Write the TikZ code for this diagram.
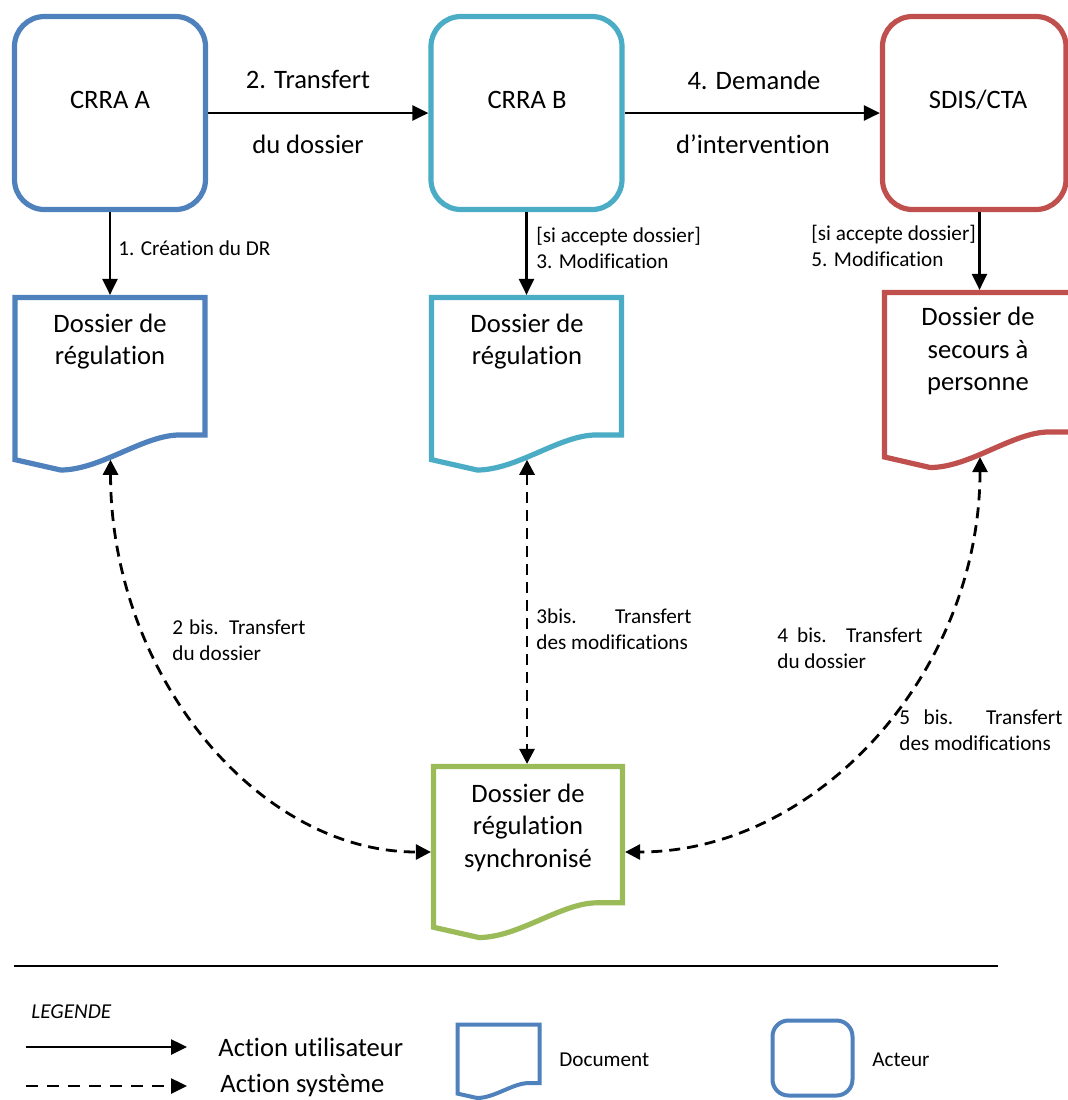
\documentclass[tikz,border=0pt]{standalone}
\usepackage{fontspec}
\setmainfont{Carlito}[Ligatures={NoCommon}]
\usetikzlibrary{arrows.meta,calc}

\definecolor{actA}{HTML}{4F81BD}
\definecolor{actB}{HTML}{4BACC6}
\definecolor{actS}{HTML}{C0504D}
\definecolor{syncCol}{HTML}{9BBB59}

\tikzset{
  actor/.style={draw=#1, line width=2.6pt, rounded corners=15pt, inner sep=0pt,
                minimum width=95.5pt, minimum height=96.5pt},
  docarea/.style={inner sep=0pt, outer sep=0pt},
  bigtext/.style={font=\fontsize{13.3}{16.3}\selectfont, inner sep=0pt, align=center},
  smalltext/.style={font=\fontsize{10.6}{13}\selectfont, inner sep=0pt, align=left},
  userarrow/.style={line width=1.3pt, -{Triangle[length=8pt,width=7.5pt]}},
  sysarrow/.style={line width=1.4pt, dash pattern=on 5.5pt off 3.5pt,
                   {Triangle[length=7.5pt,width=7.5pt]}-{Triangle[length=7.5pt,width=7.5pt]}},
  legdash/.style={line width=1.3pt, dash pattern=on 6pt off 4.5pt,
                  -{Triangle[length=8pt,width=7.5pt]}},
}

% Document outline (flat top, wavy bottom) drawn on the area of node #1
\newcommand\docoutline[3]{%
  \draw[line width=#3, draw=#2, fill=white]
    let \p1=(#1.north west), \p2=(#1.south east),
        \n1={\x2-\x1}, \n2={\y2-\y1} in
    (\x1,\y1) -- (\x2,\y1) -- (\x2,{\y1+0.797*\n2})
    -- ({\x2-0.134*\n1},{\y1+0.797*\n2})
    .. controls ({\x2-0.324*\n1},{\y1+0.797*\n2}) and ({\x1+0.45*\n1},\y2)
    .. ({\x1+0.24*\n1},\y2) coordinate[pos=0.59] (#1-w)
    -- (\x1,{\y1+0.94*\n2}) -- cycle;
}

\begin{document}
\begin{tikzpicture}[x=0.5pt,y=-0.5pt]
\fill[white] (0,0) rectangle (1068,1100);
\clip (0,0) rectangle (1068,1100);

% ---------- actors ----------
\node[actor=actA] (crraA) at (110,113) {};
\node[actor=actB] (crraB) at (526.5,113) {};
\node[actor=actS, minimum width=91.75pt] (sdis) at (974.25,113) {};
\node[bigtext] (tA) at (110,100) {CRRA A};
\node[bigtext] (tB) at (527,100) {CRRA B};
\node[bigtext] (tS) at (978,100) {SDIS/CTA};

% ---------- documents ----------
\node[docarea, minimum width=95pt, minimum height=86.25pt] (docA) at (110,383.75) {};
\docoutline{docA}{actA}{2.6pt}
\node[docarea, minimum width=95pt, minimum height=86.25pt] (docB) at (526.5,383.75) {};
\docoutline{docB}{actB}{2.6pt}
\node[docarea, minimum width=95pt, minimum height=87.5pt] (docS) at (979.5,380) {};
\docoutline{docS}{actS}{2.6pt}
\node[docarea, minimum width=94.5pt, minimum height=85.5pt] (docSync) at (528,852) {};
\docoutline{docSync}{syncCol}{2.6pt}

\node[bigtext] (dtA) at (110,341.5) {Dossier de\\régulation};
\node[bigtext] (dtB) at (527,341.5) {Dossier de\\régulation};
\node[bigtext] (dtS) at (978,351) {Dossier de\\secours à\\personne};
\node[bigtext] (dtSync) at (528,827.5) {Dossier de\\régulation\\synchronisé};

% ---------- user actions ----------
\draw[userarrow] (crraA.east) -- (crraB.west);
\draw[userarrow] (crraB.east) -- (sdis.west);
\draw[userarrow, shorten >=1.3pt] (crraA.south) -- (docA.north);
\draw[userarrow, shorten >=1.3pt] (crraB.south) -- (docB.north);
\draw[userarrow, shorten >=1.3pt] (sdis.south -| docS.north) -- (docS.north);

\node[bigtext] (l2a) at (308,79) {2. Transfert};
\node[bigtext] (l2b) at (308,144) {du dossier};
\node[bigtext] (l4a) at (754,80) {4. Demande};
\node[bigtext] (l4b) at (753,144) {d’intervention};
\node[smalltext, anchor=west] (l1) at (118,248) {1. Création du DR};
\node[smalltext, anchor=west] (l3) at (536,248) {[si accepte dossier]\\3. Modification};
\node[smalltext, anchor=west] (l5) at (811,245.5) {[si accepte dossier]\\5. Modification};

% ---------- system actions ----------
\draw[sysarrow, shorten <=1.3pt, shorten >=1.3pt]
  (docA-w) .. controls +(0,216) and +(-177,0) .. (docSync.west);
\draw[sysarrow, shorten <=1.3pt, shorten >=1.3pt]
  (docB-w) -- (docB-w |- docSync.north);
\draw[sysarrow, shorten <=1.3pt, shorten >=1.3pt]
  (docS-w) .. controls +(0,217) and +(196,0) .. (docSync.east);

\node[smalltext, anchor=west] (b2) at (172,640)
  {\makebox[66.5pt][s]{2 bis. Transfert}\\du dossier};
\node[smalltext, anchor=west] (b3) at (536,629)
  {\makebox[77.5pt][s]{3bis. Transfert}\\des modifications};
\node[smalltext, anchor=west] (b4) at (777,648.5)
  {\makebox[72.5pt][s]{4 bis. Transfert}\\du dossier};
\node[smalltext, anchor=west] (b5) at (899,730)
  {\makebox[81.5pt][s]{5 bis. Transfert}\\des modifications};

% ---------- legend ----------
\draw[line width=1.3pt] (14,966) -- (998,966);
\node[smalltext, font=\fontsize{10.6}{13}\selectfont\itshape, anchor=west] (legTitle) at (31,1012) {LEGENDE};
\coordinate (lu1) at (26,1047);
\coordinate (lu2) at (187,1047);
\draw[userarrow] (lu1) -- (lu2);
\node[bigtext, anchor=west] (luText) at (218,1047) {Action utilisateur};
\coordinate (ls1) at (26,1086);
\coordinate (ls2) at (187,1086);
\draw[legdash] (ls1) -- (ls2);
\node[bigtext, anchor=west] (lsText) at (220,1085) {Action système};

\node[docarea, minimum width=41pt, minimum height=36.75pt] (legDoc) at (498.5,1061.25) {};
\docoutline{legDoc}{actA}{2pt}
\node[smalltext, anchor=west] (legDocText) at (559,1060) {Document};
\node[actor=actA, line width=2pt, rounded corners=8pt, minimum width=40pt,
      minimum height=37.5pt] (legActor) at (812.5,1058) {};
\node[smalltext, anchor=west] (legActorText) at (872,1060) {Acteur};
\end{tikzpicture}
\end{document}
